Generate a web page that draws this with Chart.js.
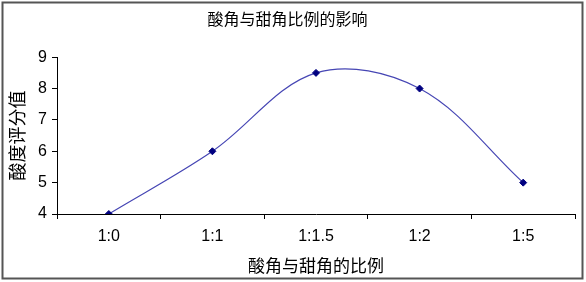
<!DOCTYPE html>
<html>
<head>
<meta charset="utf-8">
<script src="https://cdn.jsdelivr.net/npm/chart.js@4"></script>
<style>
  html, body { margin: 0; padding: 0; background: #fff; }
  #wrap { position: relative; width: 586px; height: 282px; }
</style>
</head>
<body>
<div id="wrap"><canvas id="grafico" width="586" height="282"></canvas></div>
<script>
// datos
var categorias = ['1:0', '1:1', '1:1.5', '1:2', '1:5'];
var valores = [4, 6, 8.5, 8, 5];
var ticksY = [4, 5, 6, 7, 8, 9];

var fuenteCJK = '"Noto Sans CJK SC", "Noto Sans", sans-serif';
var fuenteNum = '"Liberation Sans", Arial, sans-serif';

// marco exterior del grafico
var marco = {
  id: 'marco',
  afterDraw: function(chart) {
    var c = chart.ctx;
    c.save();
    c.strokeStyle = '#555';
    c.lineWidth = 2;
    c.strokeRect(2.5, 2.5, 580, 276);
    c.restore();
  }
};

var ctx = document.getElementById('grafico').getContext('2d');
var GraficoLineal = new Chart(ctx, {
  type: 'line',
  data: {
    labels: categorias,
    datasets: [{
      data: valores,
      borderColor: '#4646b4',
      borderWidth: 1.2,
      tension: 0.35,
      pointStyle: 'rectRot',
      pointRadius: 3.5,
      pointBackgroundColor: '#000080',
      pointBorderColor: '#000080',
      pointBorderWidth: 1
    }]
  },
  options: {
    responsive: false,
    animation: false,
    layout: { padding: { left: 0, right: 11, top: 0, bottom: 0 } },
    plugins: {
      legend: { display: false },
      tooltip: { enabled: false },
      title: {
        display: true,
        text: '酸角与甜角比例的影响',
        color: '#000',
        font: { family: fuenteCJK, size: 16, weight: 'normal' },
        padding: { top: 9, bottom: 29 }
      }
    },
    scales: {
      x: {
        offset: true,
        grid: { offset: true, drawOnChartArea: false, tickLength: 5, color: '#000' },
        border: { color: '#000', width: 1 },
        ticks: { color: '#000', font: { family: fuenteNum, size: 16 }, padding: 8 },
        title: {
          display: true,
          text: '酸角与甜角的比例',
          color: '#000',
          font: { family: fuenteCJK, size: 17 },
          padding: { top: 2, bottom: 6 }
        },
        afterFit: function(scale) { scale.height = 68; }
      },
      y: {
        min: 4,
        max: 9,
        afterBuildTicks: function(scale) {
          scale.ticks = ticksY.map(function(v) { return { value: v }; });
        },
        grid: { drawOnChartArea: false, tickLength: 5, color: '#000' },
        border: { color: '#000', width: 1 },
        ticks: { color: '#000', font: { family: fuenteNum, size: 16 }, padding: 5 },
        title: {
          display: true,
          text: '酸度评分值',
          color: '#000',
          font: { family: fuenteCJK, size: 18 },
          padding: { top: 6, bottom: 0 }
        },
        afterFit: function(scale) { scale.width = 57; }
      }
    }
  },
  plugins: [marco]
});
</script>
</body>
</html>
